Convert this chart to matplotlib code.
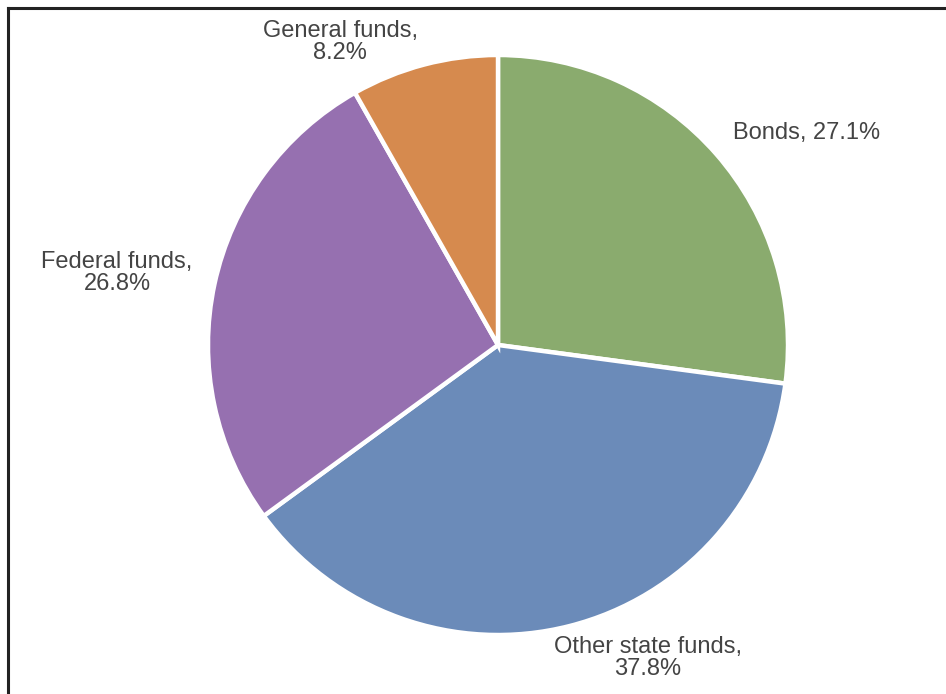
import matplotlib
matplotlib.use('Agg')
matplotlib.rcParams['font.family'] = ['Liberation Sans', 'DejaVu Sans']
import matplotlib.pyplot as plt
from matplotlib.lines import Line2D

categories = ['Bonds', 'Other state funds', 'Federal funds', 'General funds']
shares = [27.1, 37.8, 26.8, 8.2]
colors = ['#8aab6e', '#6b8bb9', '#9670b0', '#d68a4e']

W, H = 946, 694
fig = plt.figure(figsize=(W / 100, H / 100), dpi=100)
ax = fig.add_axes([0, 0, 1, 1])

ax.pie(shares, colors=colors, startangle=90, counterclock=False,
       center=(498, H - 345), radius=290, frame=True,
       wedgeprops=dict(edgecolor='white', linewidth=3.2))
ax.set_xlim(0, W)
ax.set_ylim(0, H)
ax.set_aspect('equal')
ax.axis('off')

label_pos = {
    'Bonds': (733, 133, 'left', False),
    'Other state funds': (648, 658, 'center', True),
    'Federal funds': (117, 273, 'center', True),
    'General funds': (340, 42, 'center', True),
}
for name, val in zip(categories, shares):
    x, y, ha, wrap = label_pos[name]
    sep = '\n' if wrap else ' '
    ax.text(x, H - y, f'{name},{sep}{val}%', ha=ha, va='center',
            fontsize=17, color='#444444', linespacing=1.0)

# frame lines (left and top) like the cropped screenshot
fig.add_artist(Line2D([7.5 / W, 7.5 / W], [0, 1 - 7.5 / H], transform=fig.transFigure,
                      color='#222222', lw=2.2))
fig.add_artist(Line2D([7.5 / W, 1], [1 - 7.5 / H, 1 - 7.5 / H], transform=fig.transFigure,
                      color='#222222', lw=2.2))

fig.savefig('out.png', dpi=100, facecolor='white')
